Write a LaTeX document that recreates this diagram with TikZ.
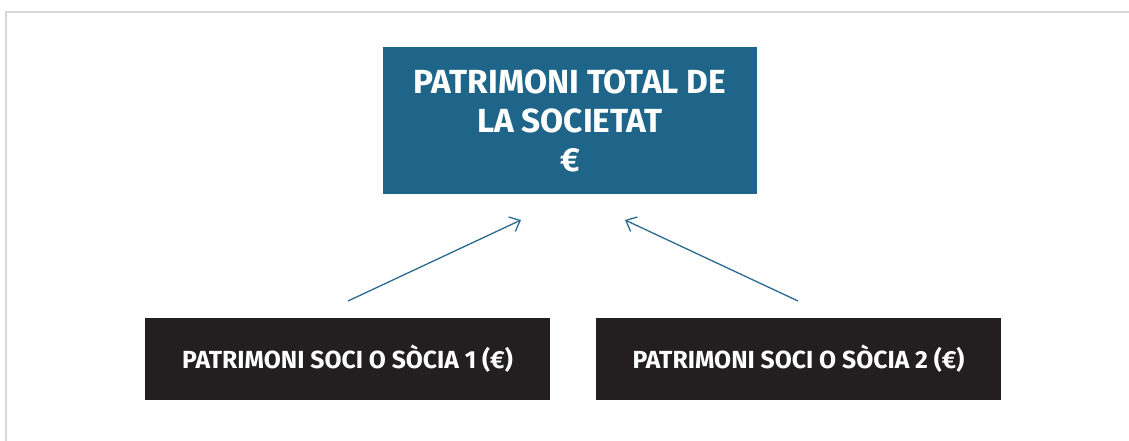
\documentclass[tikz,border=0pt]{standalone}
\usepackage{fontspec}
\setmainfont{Fira Sans}
\usetikzlibrary{arrows.meta}
\definecolor{topblue}{HTML}{1F6589}
\definecolor{darkbox}{HTML}{231F20}
\definecolor{arrowblue}{HTML}{2A6A90}
\definecolor{framegray}{HTML}{D6D6D2}
\tikzset{
  topbox/.style={fill=topblue, text=white, minimum width=374pt, minimum height=147pt, inner sep=0pt, align=center, font=\fontsize{33.4}{39}\selectfont\bfseries},
  sociobox/.style={fill=darkbox, text=white, minimum width=405pt, minimum height=82pt, inner sep=0pt, font=\fontsize{24.7}{28}\selectfont\bfseries},
  conn/.style={draw=arrowblue, line width=1.3pt, -{Straight Barb[length=9pt,width=16pt,line width=1.3pt]}}
}
\begin{document}
\begin{tikzpicture}[x=1pt,y=-1pt]
\useasboundingbox (0,0) rectangle (1129,441);
\draw[framegray, line width=2pt] (6,441) -- (6,12) -- (1129,12);
\node[topbox] (total) at (570,120.5) {PATRIMONI TOTAL DE\\LA SOCIETAT\\€};
\node[sociobox] (s1) at (347.5,359) {PATRIMONI SOCI O SÒCIA 1 (€)};
\node[sociobox] (s2) at (798.5,359) {PATRIMONI SOCI O SÒCIA 2 (€)};
\coordinate (a1s) at (348,301);
\coordinate (a1e) at (521,220);
\coordinate (a2s) at (798,301);
\coordinate (a2e) at (625,220);
\draw[conn] (a1s) -- (a1e);
\draw[conn] (a2s) -- (a2e);
\end{tikzpicture}
\end{document}
